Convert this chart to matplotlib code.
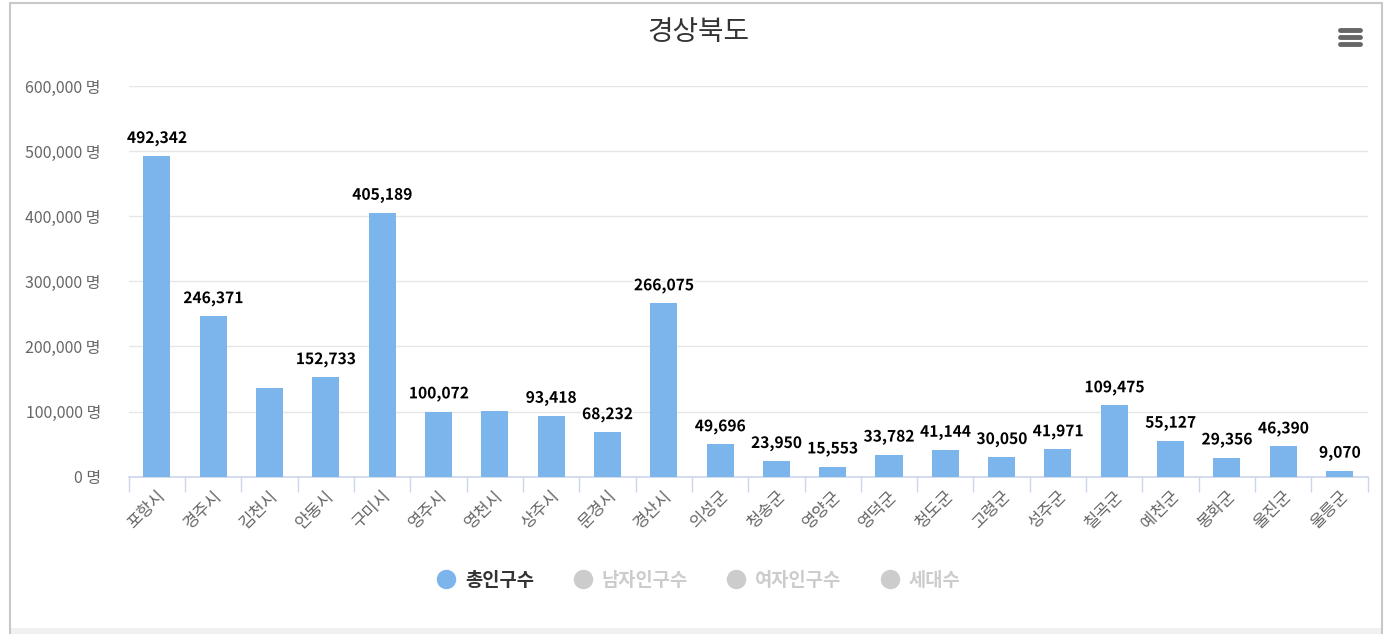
import numpy as np
import matplotlib
matplotlib.use("Agg")
import matplotlib.pyplot as plt
from matplotlib.lines import Line2D
from matplotlib.patches import Rectangle
from matplotlib.ticker import FuncFormatter, MultipleLocator
import matplotlib.patheffects as pe

plt.rcParams['font.family'] = ['Noto Sans CJK KR', 'DejaVu Sans']

# =============================================================================
#%% data
# =============================================================================
regions = ['포항시', '경주시', '김천시', '안동시', '구미시', '영주시', '영천시', '상주시',
           '문경시', '경산시', '의성군', '청송군', '영양군', '영덕군', '청도군', '고령군',
           '성주군', '칠곡군', '예천군', '봉화군', '울진군', '울릉군']
total_pop = [492342, 246371, 136000, 152733, 405189, 100072, 101000, 93418,
             68232, 266075, 49696, 23950, 15553, 33782, 41144, 30050,
             41971, 109475, 55127, 29356, 46390, 9070]
# labels the original chart hid because they overlapped
show_label = [True, True, False, True, True, True, False, True,
              True, True, True, True, True, True, True, True,
              True, True, True, True, True, True]
series_names = ['총인구수', '남자인구수', '여자인구수', '세대수']
yticks = [0, 100000, 200000, 300000, 400000, 500000, 600000]

W, H = 1389, 634
fig = plt.figure(figsize=(W / 100, H / 100), dpi=100)
fig.patch.set_facecolor('white')

# screenshot frame
fig.add_artist(Rectangle((10 / W, 0), 1372 / W, 1 - 3 / H, transform=fig.transFigure,
                         fill=False, edgecolor='#c8c8c8', linewidth=1.5))
fig.add_artist(Rectangle((11 / W, 0), 1370 / W, 6 / H, transform=fig.transFigure,
                         facecolor='#f0f0f0', edgecolor='none'))

ax = fig.add_axes([128.7 / W, 1 - 476.7 / H, (1367.7 - 128.7) / W, (476.7 - 86) / H])
x = np.arange(len(regions))
ax.bar(x, total_pop, width=0.48, color='#7cb5ec', zorder=3)

for i, v in enumerate(total_pop):
    if show_label[i]:
        t = ax.annotate("{:,}".format(v), (x[i], v), xytext=(0, 7), textcoords='offset points',
                        ha='center', va='bottom', fontsize=11.2, fontweight='semibold', color='black',
                        zorder=4)
        t.set_path_effects([pe.withStroke(linewidth=2.5, foreground='white')])

ax.set_xlim(-0.5, len(regions) - 0.5)
ax.set_ylim(0, 600000)
ax.set_yticks(yticks)
ax.yaxis.set_major_formatter(FuncFormatter(lambda v, p: "{:,} 명".format(int(v))))
ax.grid(axis='y', color='#e6e6e6', linewidth=1, zorder=0)
ax.set_xticks(x)
ax.set_xticklabels(regions, rotation=45, ha='right', rotation_mode='anchor',
                   fontsize=12, color='#666666')
ax.xaxis.set_minor_locator(MultipleLocator(1, offset=0.5))
ax.tick_params(axis='x', which='major', length=0, pad=8)
ax.tick_params(axis='x', which='minor', length=11, color='#ccd6eb', width=1)
ax.tick_params(axis='y', length=0, labelsize=11.5, labelcolor='#666666', pad=20)
for s in ['top', 'right', 'left']:
    ax.spines[s].set_visible(False)
ax.spines['bottom'].set_color('#ccd6eb')
ax.spines['bottom'].set_linewidth(1.2)

fig.text(0.5025, 1 - 32 / H, '경상북도', ha='center', va='center', fontsize=20, color='#333333')

# menu icon
for yy in [30, 37, 44]:
    fig.add_artist(Line2D([1340 / W, 1360 / W], [1 - yy / H, 1 - yy / H], transform=fig.transFigure,
                          color='#666666', linewidth=3.5, solid_capstyle='round'))

handles = [Line2D([], [], marker='o', linestyle='none', markersize=13,
                  markerfacecolor=c, markeredgecolor=c)
           for c in ['#7cb5ec', '#cccccc', '#cccccc', '#cccccc']]
leg = fig.legend(handles, series_names, loc='center', bbox_to_anchor=(0.503, 1 - 580 / H),
                 ncol=4, frameon=False, fontsize=13.5, handlelength=1.0, handletextpad=0.5,
                 columnspacing=2.1)
for k, txt in enumerate(leg.get_texts()):
    txt.set_fontweight('bold')
    txt.set_color('#333333' if k == 0 else '#cccccc')

fig.savefig('out.png', dpi=100)
